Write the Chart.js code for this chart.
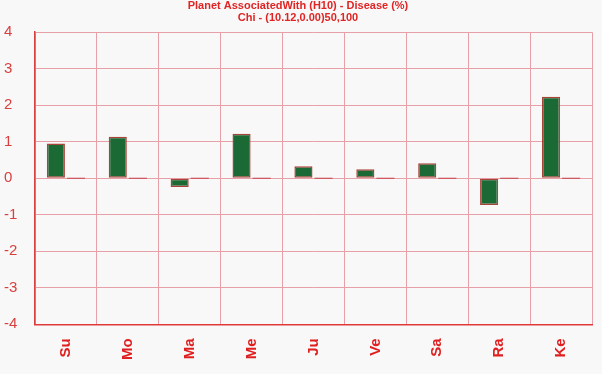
<!DOCTYPE html>
<html>
<head>
<meta charset="utf-8">
<script src="https://cdn.jsdelivr.net/npm/chart.js@4/dist/chart.umd.min.js"></script>
<style>
  html, body { margin: 0; padding: 0; background: #f8f8f8; }
  #wrap { width: 602px; height: 374px; }
</style>
</head>
<body>
<div id="wrap"><canvas id="planetChart"></canvas></div>
<script>
const planets = ['Su', 'Mo', 'Ma', 'Me', 'Ju', 'Ve', 'Sa', 'Ra', 'Ke'];
const chiValues = [0.95, 1.14, -0.24, 1.22, 0.33, 0.25, 0.41, -0.73, 2.23];
const secondValues = [0, 0, 0, 0, 0, 0, 0, 0, 0];
const titleLines = ['Planet AssociatedWith (H10) - Disease (%)', 'Chi - (10.12,0.00)50,100'];
const yMin = -4, yMax = 4, yStep = 1;

// fond gris clair
const bgPlugin = {
  id: 'bg',
  beforeDraw(chart) {
    const c = chart.ctx;
    c.save();
    c.fillStyle = '#f8f8f8';
    c.fillRect(0, 0, chart.width, chart.height);
    c.restore();
  }
};

const ctx = document.getElementById('planetChart').getContext('2d');
new Chart(ctx, {
  type: 'bar',
  data: {
    labels: planets,
    datasets: [{
      label: 'Chi',
      data: chiValues,
      backgroundColor: '#1b6a36',
      borderColor: '#a8453a',
      borderWidth: 1.5,
      borderSkipped: false,
      categoryPercentage: 0.65,
      barPercentage: 0.9
    }, {
      label: 'Base',
      data: secondValues,
      backgroundColor: '#c8404a',
      borderWidth: 0,
      minBarLength: 1,
      categoryPercentage: 0.65,
      barPercentage: 0.9
    }]
  },
  options: {
    responsive: true,
    maintainAspectRatio: false,
    animation: false,
    layout: { padding: { left: 4, right: 10, top: 0, bottom: 0 } },
    plugins: {
      legend: { display: false },
      tooltip: { enabled: false },
      title: {
        display: true,
        text: titleLines,
        color: '#e02424',
        font: { family: 'Liberation Sans', size: 11, weight: 'bold', lineHeight: 1.1 },
        padding: { top: 0, bottom: 8 }
      }
    },
    scales: {
      x: {
        grid: { color: '#e8a0a8', lineWidth: 1, drawTicks: false, offset: true },
        border: { color: '#e03a3a', width: 1.5 },
        ticks: {
          color: '#e02020',
          font: { family: 'Liberation Sans', size: 15, weight: 'bold' },
          minRotation: 90,
          maxRotation: 90,
          padding: 14
        }
      },
      y: {
        min: yMin,
        max: yMax,
        afterFit(scale) { scale.width = 31; },
        grid: { color: '#e8a0a8', lineWidth: 1, drawTicks: false },
        border: { color: '#d84040', width: 1.5 },
        ticks: {
          stepSize: yStep,
          color: '#d84040',
          font: { family: 'Liberation Sans', size: 15 },
          crossAlign: 'far',
          padding: 8
        }
      }
    }
  },
  plugins: [bgPlugin]
});
</script>
</body>
</html>
